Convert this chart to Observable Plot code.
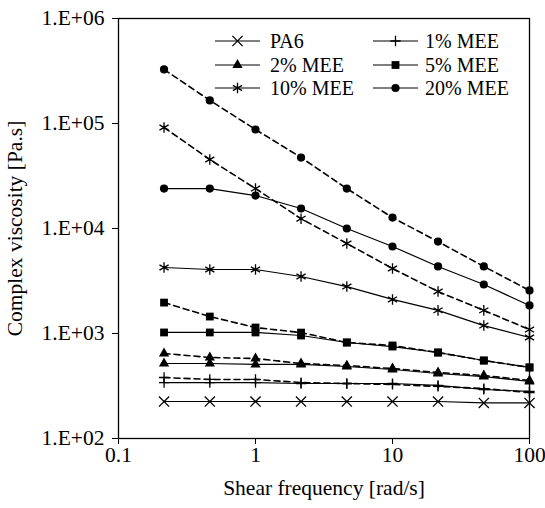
<!DOCTYPE html>
<html>
<head>
<meta charset="utf-8">
<script src="https://cdn.jsdelivr.net/npm/d3@7"></script>
<script src="https://cdn.jsdelivr.net/npm/@observablehq/plot@0.6"></script>
<style>
  html, body { margin: 0; padding: 0; background: #fff; }
  #wrap { position: relative; width: 545px; height: 508px; font-family: "Liberation Serif", serif; }
  #legend { position: absolute; left: 0; top: 0; pointer-events: none; }
</style>
</head>
<body>
<div id="wrap"><div id="chart"></div><svg id="legend" width="545" height="120"></svg></div>
<script>
// Shear frequency [rad/s]
const freq = [0.215, 0.464, 1, 2.15, 4.64, 10, 21.5, 46.4, 100];

// Complex viscosity [Pa.s] — solid curves
const pa6      = [225, 225, 225, 225, 225, 225, 225, 218, 218];
const mee1     = [341, 341, 341, 334, 334, 334, 320, 293, 281];
const mee2     = [518, 518, 507, 507, 485, 454, 416, 389, 349];
const mee5     = [1023, 1023, 1023, 957, 821, 751, 659, 553, 475];
const mee10    = [4250, 4070, 4070, 3490, 2800, 2110, 1660, 1190, 916];
const mee20    = [24000, 24000, 20600, 15500, 10000, 6740, 4350, 2930, 1850];

// dashed curves
const mee1d    = [381, 365, 365, 341, 334, 327, 313, 299, 274];
const mee2d    = [646, 591, 578, 518, 495, 464, 425, 398, 357];
const mee5d    = [1970, 1450, 1140, 1020, 821, 769, 659, 553, 475];
const mee10d   = [91600, 45400, 24000, 12400, 7200, 4160, 2510, 1660, 1090];
const mee20d   = [327000, 166000, 87700, 47400, 24000, 12700, 7500, 4350, 2570];

const labels = ["PA6", "1% MEE", "2% MEE", "5% MEE", "10% MEE", "20% MEE"];
const yTicks = [1e2, 1e3, 1e4, 1e5, 1e6];
const xTicks = [0.1, 1, 10, 100];

const styles = {
  "PA6":     {symbol: "times",    r: 4.7, fill: false},
  "1% MEE":  {symbol: "plus",     r: 3.4, fill: false},
  "2% MEE":  {symbol: "triangle", r: 3.8, fill: true},
  "5% MEE":  {symbol: "square",   r: 4.4, fill: true},
  "10% MEE": {symbol: "asterisk", r: 5.0, fill: false},
  "20% MEE": {symbol: "circle",   r: 4.1, fill: true}
};

const series = [
  {name: "PA6", values: pa6, dashed: false},
  {name: "1% MEE", values: mee1, dashed: false},
  {name: "1% MEE", values: mee1d, dashed: true},
  {name: "2% MEE", values: mee2, dashed: false},
  {name: "2% MEE", values: mee2d, dashed: true},
  {name: "5% MEE", values: mee5, dashed: false},
  {name: "5% MEE", values: mee5d, dashed: true},
  {name: "10% MEE", values: mee10, dashed: false},
  {name: "10% MEE", values: mee10d, dashed: true},
  {name: "20% MEE", values: mee20, dashed: false},
  {name: "20% MEE", values: mee20d, dashed: true}
];

const marks = [];
for (const s of series) {
  const data = freq.map((f, i) => ({x: f, y: s.values[i]}));
  marks.push(Plot.line(data, {
    x: "x", y: "y", stroke: "black",
    strokeWidth: s.dashed ? 1.6 : 1.2,
    strokeDasharray: s.dashed ? "6,4" : null
  }));
}
for (const s of series) {
  const st = styles[s.name];
  const data = freq.map((f, i) => ({x: f, y: s.values[i]}));
  marks.push(Plot.dot(data, {
    x: "x", y: "y", symbol: () => st.symbol, r: st.r,
    fill: st.fill ? "black" : "none",
    stroke: st.fill ? "none" : "black",
    strokeWidth: 1.3
  }));
}
marks.push(Plot.frame({stroke: "black", strokeWidth: 1.3}));

const chart = Plot.plot({
  width: 545,
  height: 508,
  marginLeft: 118,
  marginRight: 16,
  marginTop: 18,
  marginBottom: 70,
  style: {fontFamily: '"Liberation Serif", serif', fontSize: "21.5px", color: "black", background: "white"},
  symbol: {type: "identity"},
  x: {type: "log", domain: [0.1, 100], ticks: xTicks, tickFormat: d => String(d),
      label: "Shear frequency [rad/s]", labelArrow: "none", labelAnchor: "center", labelOffset: 56,
      tickSize: 6, tickPadding: 2},
  y: {type: "log", domain: [1e2, 1e6], ticks: yTicks,
      tickFormat: d => "1.E+" + String(Math.round(Math.log10(d))).padStart(2, "0"),
      label: "Complex viscosity [Pa.s]", labelArrow: "none", labelAnchor: "center", labelOffset: 112,
      tickSize: 6, tickPadding: 8},
  marks
});
document.getElementById("chart").appendChild(chart);

// Legend (inside the plot, top right)
const leg = d3.select("#legend");
const cols = [{x0: 215, x1: 260, tx: 270}, {x0: 373, x1: 418, tx: 425}];
const rowsY = [41, 65, 88];
const symMap = {times: d3.symbolTimes, plus: d3.symbolPlus, triangle: d3.symbolTriangle,
                square: d3.symbolSquare, asterisk: d3.symbolAsterisk, circle: d3.symbolCircle};
labels.forEach((name, i) => {
  const c = cols[i % 2], y = rowsY[Math.floor(i / 2)];
  const st = styles[name];
  const g = leg.append("g");
  g.append("line").attr("x1", c.x0).attr("x2", c.x1).attr("y1", y).attr("y2", y)
    .attr("stroke", "black").attr("stroke-width", 1.2);
  g.append("path")
    .attr("d", d3.symbol(symMap[st.symbol], st.r * st.r * Math.PI)())
    .attr("transform", `translate(${(c.x0 + c.x1) / 2},${y})`)
    .attr("fill", st.fill ? "black" : "none")
    .attr("stroke", st.fill ? "none" : "black").attr("stroke-width", 1.3);
  g.append("text").attr("x", c.tx).attr("y", y).attr("dy", "0.35em")
    .attr("font-family", '"Liberation Serif", serif').attr("font-size", 20)
    .text(name);
});
</script>
</body>
</html>
